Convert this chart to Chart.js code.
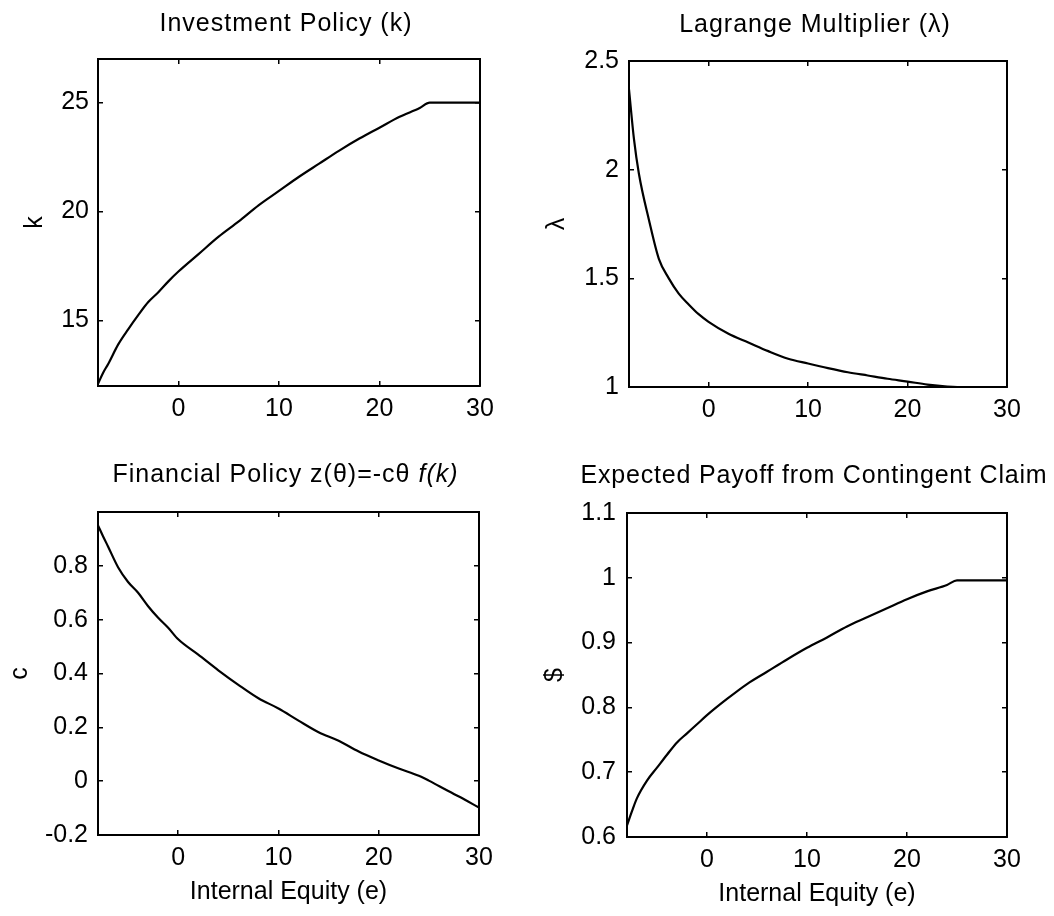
<!DOCTYPE html>
<html>
<head>
<meta charset="utf-8">
<title>Investment and Financial Policy</title>
<script src="https://cdn.jsdelivr.net/npm/chart.js@4.4.1/dist/chart.umd.min.js"></script>
<style>
  html, body { margin:0; padding:0; background:#fff; }
  #wrap { position:relative; width:1054px; height:916px; }
  #wrap canvas { position:absolute; }
</style>
</head>
<body>
<div id="wrap">
  <canvas id="kChart"   width="527" height="450" style="left:0;top:0"></canvas>
  <canvas id="lamChart" width="527" height="450" style="left:527px;top:0"></canvas>
  <canvas id="cChart"   width="527" height="466" style="left:0;top:450px"></canvas>
  <canvas id="payChart" width="527" height="466" style="left:527px;top:450px"></canvas>
</div>
<script>
// ------------------------------------------------------------
// values (internal equity e on the x axis)
// ------------------------------------------------------------
const equity     = [-8, -7.5, -7, -6, -5, -4, -3, -2, -1, 0, 2, 4, 6, 8, 10, 12, 14, 16, 18, 20, 22, 24, 25, 26, 28, 30];
const investment = [12.1, 12.6, 13.0, 13.9, 14.6, 15.25, 15.85, 16.3, 16.8, 17.25, 18.05, 18.85, 19.55, 20.3, 20.95, 21.6, 22.2, 22.8, 23.35, 23.85, 24.35, 24.75, 25.0, 25.0, 25.0, 25.0];
const lagrange   = [2.37, 2.14, 1.98, 1.77, 1.59, 1.50, 1.43, 1.38, 1.335, 1.30, 1.245, 1.205, 1.165, 1.13, 1.108, 1.087, 1.068, 1.053, 1.038, 1.025, 1.011, 1.002, 1.0, 1.0, 1.0, 1.0];
const finance    = [0.95, 0.91, 0.872, 0.795, 0.74, 0.70, 0.65, 0.607, 0.57, 0.527, 0.47, 0.412, 0.358, 0.308, 0.27, 0.225, 0.182, 0.15, 0.11, 0.077, 0.047, 0.02, 0.002, -0.018, -0.057, -0.098];
const payoff     = [0.618, 0.64, 0.66, 0.687, 0.707, 0.727, 0.746, 0.76, 0.774, 0.788, 0.813, 0.836, 0.855, 0.874, 0.892, 0.908, 0.925, 0.939, 0.953, 0.967, 0.979, 0.989, 0.996, 0.996, 0.996, 0.996];

const equityTicks = [0, 10, 20, 30];
const kTicks      = [15, 20, 25];
const lamTicks    = [1, 1.5, 2, 2.5];
const cTicks      = [-0.2, 0, 0.2, 0.4, 0.6, 0.8];
const payTicks    = [0.6, 0.7, 0.8, 0.9, 1, 1.1];

const FONT = "'Liberation Sans', Arial, Helvetica, sans-serif";
Chart.defaults.font.family = FONT;
Chart.defaults.font.size = 25;
Chart.defaults.color = '#000';

// panel heading drawn centred over the plot box (parts allow an italic run)
const panelTitle = {
  id: 'panelTitle',
  afterDraw(chart, args, o) {
    const { ctx, chartArea: a } = chart;
    ctx.save();
    ctx.fillStyle = '#000';
    ctx.textAlign = 'left';
    ctx.textBaseline = 'alphabetic';
    ctx.letterSpacing = o.spacing;
    const fonts = o.parts.map(p => (p.italic ? 'italic ' : '') + '25px ' + FONT);
    const widths = o.parts.map((p, i) => { ctx.font = fonts[i]; return ctx.measureText(p.text).width; });
    let x = (a.left + a.right) / 2 + o.dx - widths.reduce((s, w) => s + w, 0) / 2;
    o.parts.forEach((p, i) => { ctx.font = fonts[i]; ctx.fillText(p.text, x, o.y); x += widths[i]; });
    ctx.restore();
  }
};

const fixSize = px => s => { if (s.isHorizontal()) s.height = px; else s.width = px; };
const useTicks = arr => s => { s.ticks = arr.map(v => ({ value: v })); };
const inTicks = { display: true, drawOnChartArea: false, drawTicks: true, tickLength: -5, color: '#000', lineWidth: 1.5 };
const frame = { display: true, color: '#000', width: 2 };

function panel(id, p) {
  const pts = p.values.map((v, i) => ({ x: equity[i], y: v }));
  return new Chart(document.getElementById(id), {
    type: 'line',
    data: { datasets: [{ data: pts, xAxisID: 'x', yAxisID: 'y', borderColor: '#000', borderWidth: 2.2,
      pointRadius: 0, tension: 0, cubicInterpolationMode: 'monotone' }] },
    plugins: [panelTitle],
    options: {
      responsive: false, animation: false, devicePixelRatio: 1,
      layout: { padding: { left: p.pad[0], right: p.pad[1], top: 0, bottom: p.pad[2] } },
      plugins: { legend: { display: false }, tooltip: { enabled: false },
        panelTitle: { parts: p.title, y: p.titleY, dx: -3, spacing: p.spacing } },
      scales: {
        x: { type: 'linear', position: 'bottom', min: -8, max: 30,
          afterBuildTicks: useTicks(equityTicks), afterFit: fixSize(p.size[2]),
          grid: inTicks, border: frame,
          ticks: { padding: 13, maxRotation: 0, autoSkip: false, callback: v => String(v) },
          title: { display: !!p.xTitle, text: p.xTitle || '', padding: { top: 0, bottom: 4 } } },
        y: { type: 'linear', position: 'left', min: p.yRange[0], max: p.yRange[1],
          afterBuildTicks: useTicks(p.yTicks), afterFit: fixSize(p.size[0]),
          grid: inTicks, border: frame,
          ticks: { padding: p.yPad, autoSkip: false, callback: v => String(v) },
          title: { display: true, text: p.yTitle, padding: { top: 4, bottom: 0 } } },
        x2: { type: 'linear', axis: 'x', position: 'top', min: -8, max: 30,
          afterBuildTicks: useTicks(equityTicks), afterFit: fixSize(p.size[1]),
          grid: inTicks, border: frame, ticks: { display: false } },
        y2: { type: 'linear', axis: 'y', position: 'right', min: p.yRange[0], max: p.yRange[1],
          afterBuildTicks: useTicks(p.yTicks), afterFit: fixSize(0),
          grid: inTicks, border: frame, ticks: { display: false } }
      }
    }
  });
}

// size = [y axis width, top strip height, x axis height]; pad = [left, right, bottom]
panel('kChart', {
  values: investment, yRange: [12, 27], yTicks: kTicks, yTitle: 'k', yPad: 14,
  title: [{ text: 'Investment Policy (k)' }], titleY: 31, spacing: '1px',
  pad: [16, 47, 0], size: [82, 59, 64]
});
panel('lamChart', {
  values: lagrange, yRange: [1, 2.5], yTicks: lamTicks, yTitle: 'λ', yPad: 15,
  title: [{ text: 'Lagrange Multiplier (λ)' }], titleY: 32, spacing: '1px',
  pad: [11, 47, 0], size: [91, 61, 63]
});
panel('cChart', {
  values: finance, yRange: [-0.2, 1], yTicks: cTicks, yTitle: 'c', yPad: 15,
  title: [{ text: 'Financial Policy z(θ)=-cθ ' }, { text: 'f(k)', italic: true }], titleY: 32, spacing: '1px',
  xTitle: 'Internal Equity (e)',
  pad: [1, 48, 5], size: [97, 62, 76]
});
panel('payChart', {
  values: payoff, yRange: [0.6, 1.1], yTicks: payTicks, yTitle: '$', yPad: 16,
  title: [{ text: 'Expected Payoff from Contingent Claim' }], titleY: 33, spacing: '0.8px',
  xTitle: 'Internal Equity (e)',
  pad: [9, 47, 3], size: [91, 63, 76]
});
</script>
</body>
</html>
